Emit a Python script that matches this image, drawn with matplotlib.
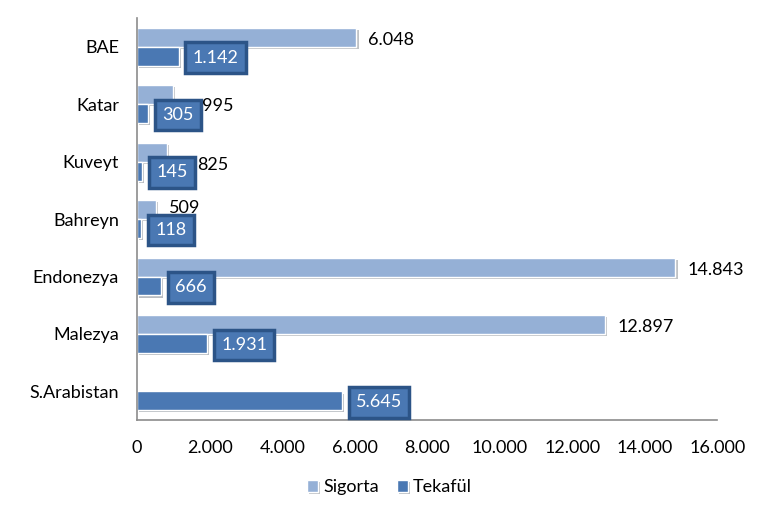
import matplotlib
matplotlib.use("Agg")
import matplotlib.pyplot as plt
import matplotlib.patheffects as pe
import numpy as np
from matplotlib.ticker import FuncFormatter

# data
countries = ["BAE", "Katar", "Kuveyt", "Bahreyn", "Endonezya", "Malezya", "S.Arabistan"]
sigorta = [6048, 995, 825, 509, 14843, 12897, np.nan]
tekaful = [1142, 305, 145, 118, 666, 1931, 5645]
xticks = [0, 2000, 4000, 6000, 8000, 10000, 12000, 14000, 16000]

# label nudges for the sigorta values (points, dx / dy), as placed in the original
sig_nudge = [(8, -2), (21, -8), (22, -9), (10, 1), (9, -2), (9, -2), (0, 0)]

light = "#95b0d6"
dark = "#4a78b3"
edge_dark = "#2c5487"
fs = 13

plt.rcParams["font.family"] = ["Lato", "DejaVu Sans"]

fig = plt.figure(figsize=[7.79, 5.13], dpi=100)
ax = fig.add_axes([0.176, 0.181, 0.745, 0.784])

n = len(countries)
y = np.arange(n)
h = 0.33
shadow = [pe.SimplePatchShadow(offset=(1.5, -1.5), alpha=0.3), pe.Normal()]

b1 = ax.barh(y - h / 2, np.nan_to_num(sigorta), height=h, color=light,
             edgecolor="white", linewidth=1, label="Sigorta")
b2 = ax.barh(y + h / 2, tekaful, height=h, color=dark,
             edgecolor="white", linewidth=1, label="Tekafül")
for bar in list(b1) + list(b2):
    bar.set_path_effects(shadow)

ax.set_xlim(0, 16000)
ax.set_ylim(n - 0.5, -0.5)
ax.set_xticks(xticks)
ax.xaxis.set_major_formatter(FuncFormatter(lambda v, p: f"{int(v):,}".replace(",", ".")))
ax.set_yticks(y)
ax.set_yticklabels(countries)
ax.tick_params(axis="both", length=0, labelsize=fs, colors="black")
ax.tick_params(axis="x", pad=14)
ax.tick_params(axis="y", pad=13)
for s in ["top", "right"]:
    ax.spines[s].set_visible(False)
for s in ["left", "bottom"]:
    ax.spines[s].set_color("#8c8c8c")
    ax.spines[s].set_linewidth(1.2)

fmt = lambda v: f"{int(v):,}".replace(",", ".")

# tekaful labels in boxes
for yi, v in zip(y, tekaful):
    ax.annotate(fmt(v), (v, yi + h / 2), xytext=(10, -1), textcoords="offset points",
                ha="left", va="center", color="white", fontsize=fs, zorder=5,
                bbox=dict(boxstyle="square,pad=0.4", fc=dark, ec=edge_dark, lw=2.5))

# sigorta labels
for yi, v, (dx, dy) in zip(y, sigorta, sig_nudge):
    if np.isnan(v):
        continue
    ax.annotate(fmt(v), (v, yi - h / 2), xytext=(dx, dy), textcoords="offset points",
                ha="left", va="center", color="black", fontsize=fs, zorder=6)

fig.legend(handles=[b1, b2], labels=["Sigorta", "Tekafül"], loc="center",
           bbox_to_anchor=(0.5, 0.05), ncol=2, frameon=False, fontsize=fs,
           handlelength=0.6, handleheight=0.6, handletextpad=0.3, columnspacing=1.0)

fig.savefig("out.png", dpi=100)
